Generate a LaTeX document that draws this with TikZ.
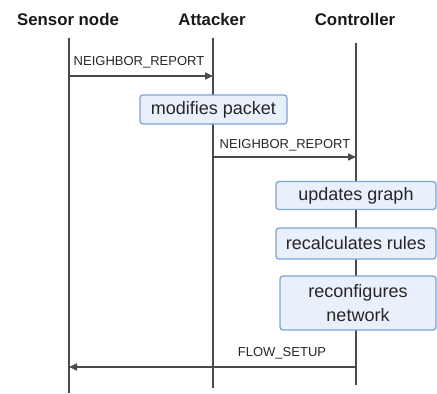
\documentclass[tikz,border=0pt]{standalone}
\usepackage{fontspec}
\setmainfont{Liberation Sans}
\usepackage{xcolor}
\usetikzlibrary{arrows.meta, positioning}
\definecolor{lifegray}{HTML}{4A4A4A}
\definecolor{actfill}{HTML}{E8F0FB}
\definecolor{actdraw}{HTML}{7FA2D8}

\begin{document}
\begin{tikzpicture}[
    x=1pt, y=-1pt,
    actor/.style={font=\fontsize{16.8}{19}\selectfont\bfseries, text=black!90},
    life/.style={line width=1.8pt, lifegray},
    msg/.style={-{Stealth[length=8pt, width=7pt, inset=0pt]}, line width=1.6pt, lifegray},
    msglabel/.style={font=\fontsize{13}{14}\selectfont, text=black!85},
    action/.style={rectangle, rounded corners=3pt, draw=actdraw, line width=1.3pt, fill=actfill,
        font=\fontsize{18}{24}\selectfont, text=black!85, align=center, inner sep=2pt}
]
\useasboundingbox (0,0) rectangle (437,394);

% Participants
\node[actor] (sensor) at (68,19.5) {Sensor node};
\node[actor] (attacker) at (212,19.5) {Attacker};
\node[actor] (ctrl) at (355,19.5) {Controller};

% Lifeline ends
\coordinate (sensorend) at (69,393);
\coordinate (attackerend) at (213,388);
\coordinate (ctrlend) at (356,385);

% Lifelines
\draw[life] (69,38) -- (sensorend);
\draw[life] (213,38) -- (attackerend);
\draw[life] (356,43) -- (ctrlend);

% Message end points
\coordinate (m1a) at (69,76);
\coordinate (m1b) at (213,76);
\coordinate (m2a) at (213,157);
\coordinate (m2b) at (356,157);
\coordinate (m3a) at (356,367);
\coordinate (m3b) at (69,367);

% Messages
\draw[msg] (m1a) -- (m1b);
\draw[msg] (m2a) -- (m2b);
\draw[msg] (m3a) -- (m3b);

\node[msglabel] (l1) at (139,62) {NEIGHBOR\_REPORT};
\node[msglabel] (l2) at (285,145) {NEIGHBOR\_REPORT};
\node[msglabel] (l3) at (282,353) {FLOW\_SETUP};

% Actions
\node[action, minimum width=147pt, minimum height=29pt] (modify) at (213.5,109.5) {modifies packet};
\node[action, minimum width=160pt, minimum height=28pt] (update) at (356,195.5) {updates graph};
\node[action, minimum width=160pt, minimum height=31pt] (recalc) at (356,243.5) {recalculates rules};
\node[action, minimum width=156pt, minimum height=54pt] (reconf) at (358,303) {reconfigures\\network};

\end{tikzpicture}
\end{document}
